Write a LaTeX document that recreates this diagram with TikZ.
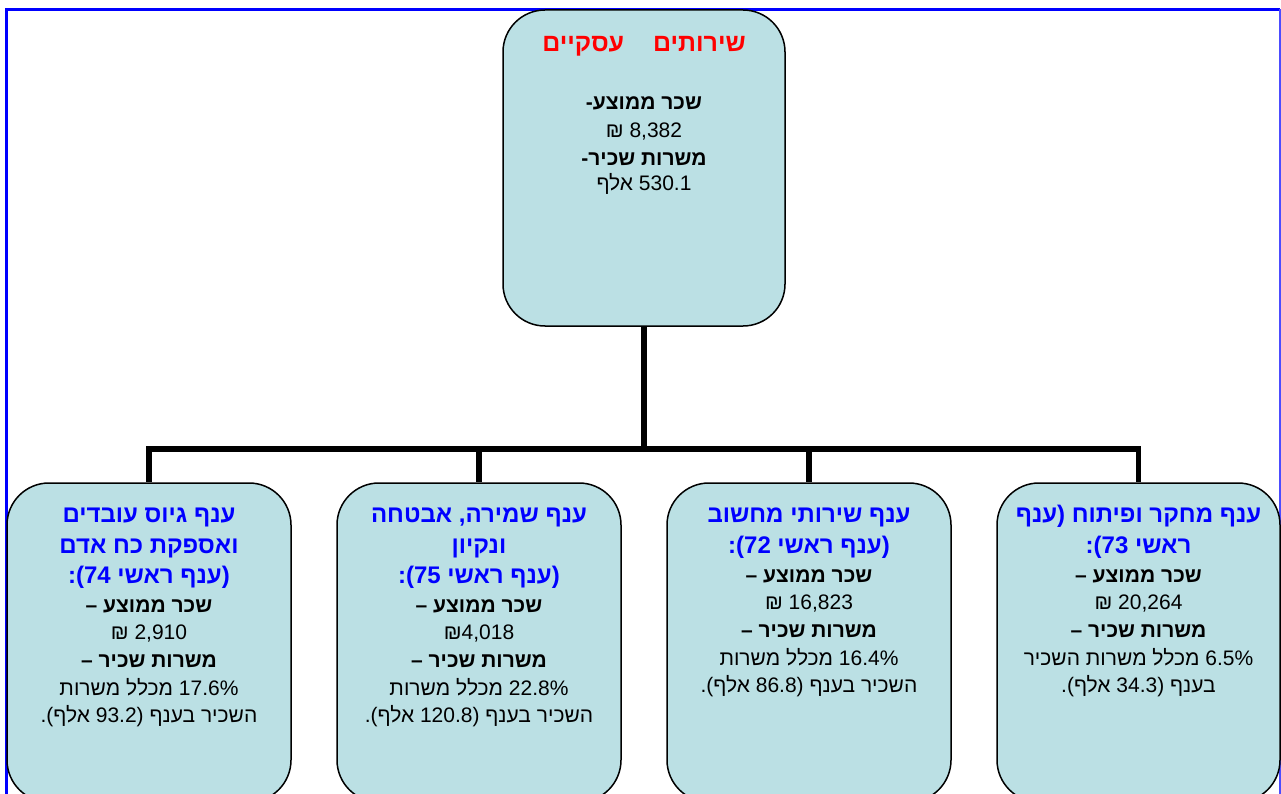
\documentclass[tikz,border=0pt]{standalone}
\usepackage{fontspec}
\setmainfont{Liberation Sans}
\newfontfamily\heb[Script=Hebrew]{Liberation Sans}
\TeXXeTstate=1
\newcommand\hebline[1]{\beginR #1\endR}
\definecolor{boxfill}{RGB}{187,224,228}
\definecolor{frameblue}{RGB}{0,0,255}
\definecolor{titleblue}{RGB}{0,0,255}
\definecolor{titlered}{RGB}{255,0,0}
\begin{document}
\begin{tikzpicture}[x=1pt,y=-1pt,
  boxnode/.style={draw=black, line width=1.5pt, fill=boxfill, rounded corners=42pt,
    minimum width=284pt, inner sep=0pt},
  conn/.style={line width=5.5pt, line join=miter},
  ttl/.style={anchor=base, inner sep=0pt, text=titleblue,
    font=\heb\fontsize{24}{28}\selectfont\bfseries},
  redttl/.style={anchor=base, inner sep=0pt, text=titlered,
    font=\heb\fontsize{25}{29}\selectfont\bfseries},
  lbl/.style={anchor=base, inner sep=0pt, font=\heb\fontsize{21}{25}\selectfont\bfseries},
  val/.style={anchor=base, inner sep=0pt, font=\heb\fontsize{21}{25}\selectfont},
]
\useasboundingbox (0,0) rectangle (1281,794);
\clip (0,0) rectangle (1281,794);
\fill[white] (0,0) rectangle (1281,794);
% frame
\draw[frameblue, line width=2.5pt] (6.5,820) -- (6.5,9.5) -- (1280,9.5);
\draw[frameblue!70, line width=1.5pt] (1279.8,9.5) -- (1279.8,820);

% boxes
\node[boxnode, minimum width=282pt, minimum height=316pt] (top) at (644,168) {};
\node[boxnode, minimum height=319pt] (b1) at (149,642.5) {};
\node[boxnode, minimum height=319pt] (b2) at (479,642.5) {};
\node[boxnode, minimum height=319pt] (b3) at (809,642.5) {};
\node[boxnode, minimum width=283pt, minimum height=319pt] (b4) at (1138.5,642.5) {};

% connectors
\coordinate (bus) at (644,449);
\draw[conn] (top.south) -- (bus);
\draw[conn] (bus) -| (b1.north);
\draw[conn] (bus) -| (b2.north);
\draw[conn] (bus) -| (b3.north);
\draw[conn] (bus) -| (b4.north);

% top box text
\node[redttl] (t0) at (644,51.8) {\hebline{שירותים\hspace{22pt} עסקיים}};
\node[lbl] (t1) at (644,109.5) {\hebline{שכר ממוצע-}};
\node[val] (t2) at (644,137.5) {\hebline{8,382 ₪}};
\node[lbl] (t3) at (644,165.5) {\hebline{משרות שכיר-}};
\node[val] (t4) at (644,190.5) {\hebline{530.1 אלף}};

% box 1
\node[ttl] (a1) at (149,522.6) {\hebline{ענף גיוס עובדים}};
\node[ttl] (a2) at (149,553.6) {\hebline{ואספקת כח אדם}};
\node[ttl] (a3) at (149,583.6) {\hebline{(ענף ראשי 74):}};
\node[lbl] (a4) at (149,612.5) {\hebline{שכר ממוצע –}};
\node[val] (a5) at (149,639.5) {\hebline{2,910 ₪}};
\node[lbl] (a6) at (149,667.5) {\hebline{משרות שכיר –}};
\node[val] (a7) at (149,695.5) {\hebline{17.6\% מכלל משרות}};
\node[val] (a8) at (149,722.5) {\hebline{השכיר בענף (93.2 אלף).}};

% box 2
\node[ttl] (c1) at (479,522.6) {\hebline{ענף שמירה, אבטחה}};
\node[ttl] (c2) at (479,553.6) {\hebline{ונקיון}};
\node[ttl] (c3) at (479,583.6) {\hebline{(ענף ראשי 75):}};
\node[lbl] (c4) at (479,612.5) {\hebline{שכר ממוצע –}};
\node[val] (c5) at (479,639.5) {\hebline{₪4,018}};
\node[lbl] (c6) at (479,667.5) {\hebline{משרות שכיר –}};
\node[val] (c7) at (479,695.5) {\hebline{22.8\% מכלל משרות}};
\node[val] (c8) at (479,722.5) {\hebline{השכיר בענף (120.8 אלף).}};

% box 3
\node[ttl] (d1) at (809,522.6) {\hebline{ענף שירותי מחשוב}};
\node[ttl] (d2) at (809,553.6) {\hebline{(ענף ראשי 72):}};
\node[lbl] (d3) at (809,582.5) {\hebline{שכר ממוצע –}};
\node[val] (d4) at (809,609.5) {\hebline{16,823 ₪}};
\node[lbl] (d5) at (809,637.5) {\hebline{משרות שכיר –}};
\node[val] (d6) at (809,665.5) {\hebline{16.4\% מכלל משרות}};
\node[val] (d7) at (809,692.5) {\hebline{השכיר בענף (86.8 אלף).}};

% box 4
\node[ttl] (e1) at (1138.5,522.6) {\hebline{ענף מחקר ופיתוח (ענף}};
\node[ttl] (e2) at (1138.5,553.6) {\hebline{ראשי 73):}};
\node[lbl] (e3) at (1138.5,582.5) {\hebline{שכר ממוצע –}};
\node[val] (e4) at (1138.5,609.5) {\hebline{20,264 ₪}};
\node[lbl] (e5) at (1138.5,637.5) {\hebline{משרות שכיר –}};
\node[val] (e6) at (1138.5,665.5) {\hebline{6.5\% מכלל משרות השכיר}};
\node[val] (e7) at (1138.5,692.5) {\hebline{בענף (34.3 אלף).}};
\end{tikzpicture}
\end{document}
